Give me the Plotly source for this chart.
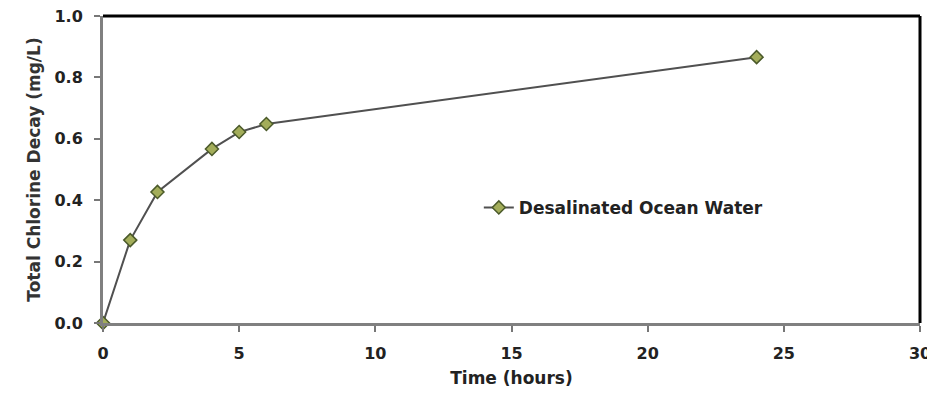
import plotly.graph_objects as go

time_hours = [0, 1, 2, 4, 5, 6, 24]
chlorine_decay = [0.0, 0.27, 0.427, 0.567, 0.622, 0.648, 0.866]
series_name = "Desalinated Ocean Water"
x_ticks = [0, 5, 10, 15, 20, 25, 30]
y_ticks = [0.0, 0.2, 0.4, 0.6, 0.8, 1.0]
y_tick_labels = ["0.0", "0.2", "0.4", "0.6", "0.8", "1.0"]

font_family = "DejaVu Sans, Verdana, sans-serif"

fig = go.Figure()
fig.add_trace(go.Scatter(
    x=time_hours, y=chlorine_decay, mode="lines+markers", name=series_name,
    line=dict(color="#505050", width=2),
    marker=dict(symbol="diamond", size=10, color="#a3ad5a",
                line=dict(color="#4b5a2a", width=1.5)),
    cliponaxis=False,
))

fig.update_layout(
    width=927, height=389,
    margin=dict(l=95, r=15, t=8, b=74),
    paper_bgcolor="white", plot_bgcolor="white",
    font=dict(family=font_family, size=16, color="#111"),
    showlegend=True,
    legend=dict(x=0.46, y=0.375, xanchor="left", yanchor="middle",
                bgcolor="rgba(0,0,0,0)",
                font=dict(size=17, family=font_family, weight="bold", color="#222")),
    xaxis=dict(
        range=[0, 30], tickvals=x_ticks, ticks="outside", ticklen=6,
        tickcolor="#777", tickwidth=2, showgrid=False, zeroline=False,
        showline=True, linecolor="#808080", linewidth=3, mirror=False,
        automargin=False, ticklabeloverflow="allow", ticklabelstandoff=8,
        tickfont=dict(size=16, weight="bold", color="#222"),
        title=dict(text="Time (hours)", font=dict(size=17, weight="bold", color="#222"), standoff=10),
    ),
    yaxis=dict(
        range=[0, 1.0], tickvals=y_ticks, ticktext=y_tick_labels,
        ticks="outside", ticklen=6, tickcolor="#777", tickwidth=2,
        showgrid=False, zeroline=False,
        showline=True, linecolor="#808080", linewidth=3,
        automargin=False, ticklabeloverflow="allow", ticklabelstandoff=8,
        tickfont=dict(size=16, weight="bold", color="#222"),
        title=dict(text="Total Chlorine Decay (mg/L)", font=dict(size=17, weight="bold", color="#333"), standoff=10),
    ),
)

# top and right border in black
fig.add_shape(type="line", xref="paper", yref="paper", x0=0, x1=1, y0=1, y1=1,
              line=dict(color="black", width=3))
fig.add_shape(type="line", xref="paper", yref="paper", x0=1, x1=1, y0=0, y1=1,
              line=dict(color="black", width=3))

fig.write_html("out.html")
